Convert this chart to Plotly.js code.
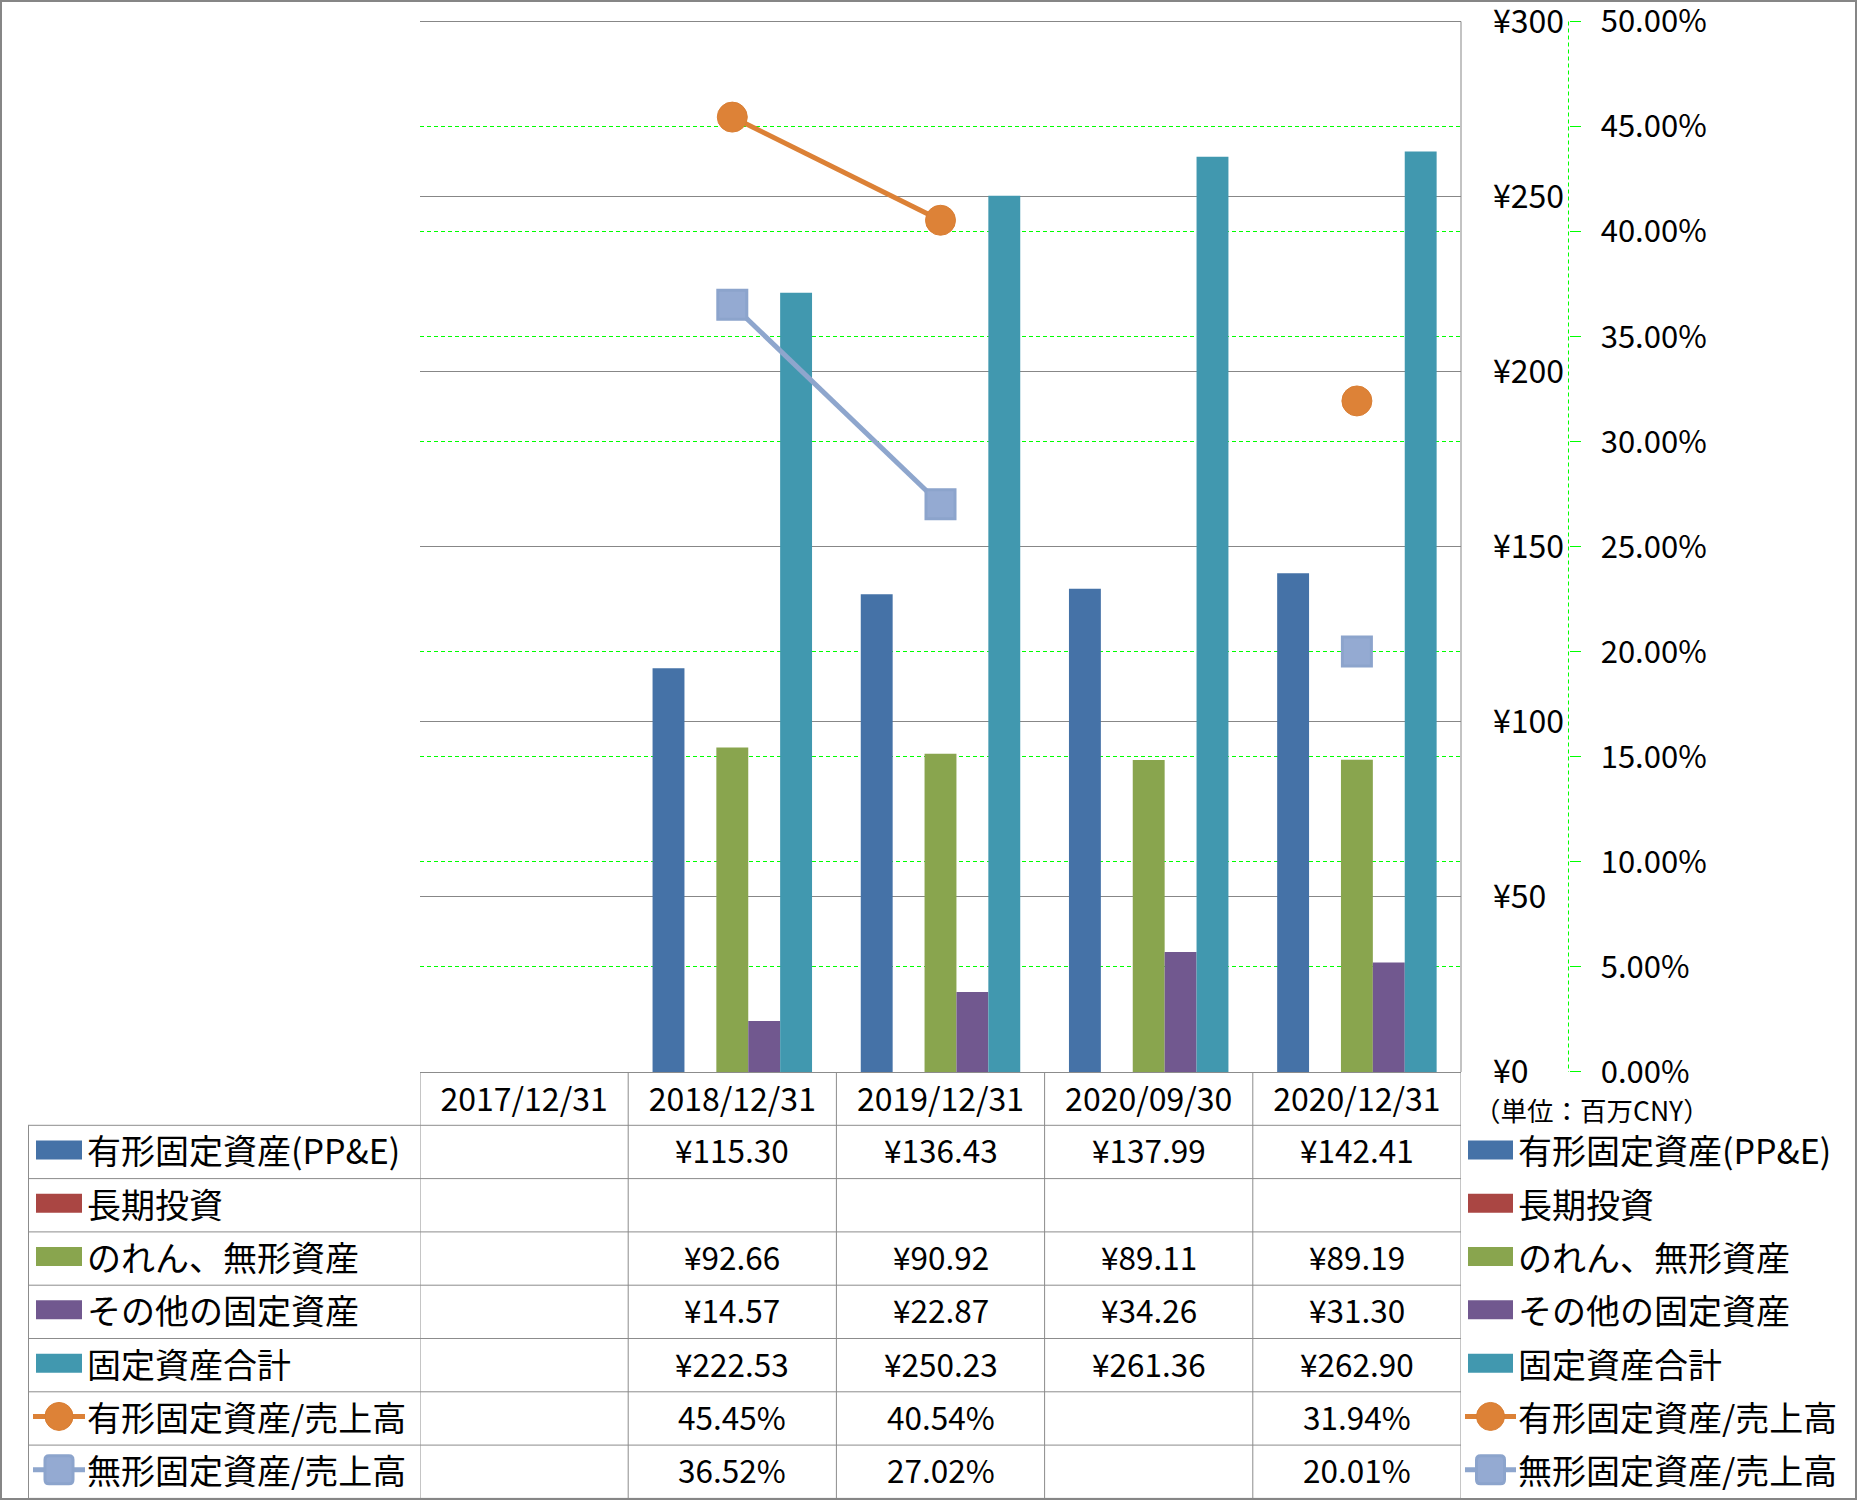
<!DOCTYPE html>
<html>
<head>
<meta charset="utf-8">
<script src="https://cdn.plot.ly/plotly-3.0.1.min.js"></script>
<style>
html,body{margin:0;padding:0;background:#fff;}
#chart{width:1857px;height:1500px;}
</style>
</head>
<body>
<div id="chart"></div>
<script>
// ---------- DATA ----------
const categories = ['2017/12/31', '2018/12/31', '2019/12/31', '2020/09/30', '2020/12/31'];
const ppe        = [null, 115.30, 136.43, 137.99, 142.41];
const ltInvest   = [null, null, null, null, null];
const goodwill   = [null, 92.66, 90.92, 89.11, 89.19];
const otherFixed = [null, 14.57, 22.87, 34.26, 31.30];
const totalFixed = [null, 222.53, 250.23, 261.36, 262.90];
const ppeRatio   = [null, 45.45, 40.54, null, 31.94];
const intRatio   = [null, 36.52, 27.02, null, 20.01];
const seriesNames = ['有形固定資産(PP&E)', '長期投資', 'のれん、無形資産', 'その他の固定資産', '固定資産合計', '有形固定資産/売上高', '無形固定資産/売上高'];
const unitText = '（単位：百万CNY）';

// ---------- STYLE ----------
const W = 1857, H = 1500;
const FONT = '"Noto Sans CJK JP", "Noto Sans", sans-serif';
const colors = ['#4572A7', '#AA4643', '#89A54E', '#71588F', '#4198AF', '#DC8136', '#8EA6CD'];
const gridGray = '#878787';
const tableGray = '#8C8C8C';
const green = '#00FF00';
const plotL = 420, plotR = 1461, plotT = 21.5, plotB = 1072;
const axis2X = 1568.5;
const rowTop0 = 1125.3, rowH = 53.3;
const X = px => px / W;
const Y = py => 1 - py / H;
// small headroom above the last tick so that its grid line and label are kept
const yMax = 301, y2Max = 50 * yMax / 300;
const plotTop = plotB - (plotB - plotT) * yMax / 300;

const barSeries = [ppe, ltInvest, goodwill, otherFixed, totalFixed];
const lineSeries = [ppeRatio, intRatio];

const traces = [];
barSeries.forEach((vals, i) => {
  traces.push({
    type: 'bar', name: seriesNames[i], x: categories, y: vals,
    marker: {color: colors[i]}, xaxis: 'x', yaxis: 'y', showlegend: false, hoverinfo: 'skip'
  });
});
traces.push({
  type: 'scatter', mode: 'lines+markers', name: seriesNames[5], x: categories, y: ppeRatio,
  xaxis: 'x', yaxis: 'y2', connectgaps: false, cliponaxis: false,
  line: {color: colors[5], width: 5},
  marker: {symbol: 'circle', size: 30, color: '#DD8237', line: {color: '#D97E33', width: 1}},
  showlegend: false, hoverinfo: 'skip'
});
traces.push({
  type: 'scatter', mode: 'lines+markers', name: seriesNames[6], x: categories, y: intRatio,
  xaxis: 'x', yaxis: 'y2', connectgaps: false, cliponaxis: false,
  line: {color: colors[6], width: 5},
  marker: {symbol: 'square', size: 29, color: '#94AAD2', line: {color: '#8CA4CC', width: 3}},
  showlegend: false, hoverinfo: 'skip'
});
// empty trace so the gray value grid can be redrawn above the green percentage grid
traces.push({type: 'scatter', mode: 'markers', x: [], y: [], xaxis: 'x', yaxis: 'y3', showlegend: false, hoverinfo: 'skip'});

// ---------- TABLE / LEGEND DECORATION ----------
const shapes = [];
const annotations = [];
const nRows = seriesNames.length;
const lineStyle = {color: tableGray, width: 1};

for (let r = 0; r <= nRows; r++) {
  const yy = rowTop0 + r * rowH;
  shapes.push({type: 'line', xref: 'paper', yref: 'paper', x0: X(28), x1: X(plotR), y0: Y(yy), y1: Y(yy), line: lineStyle, layer: 'above'});
}
for (let c = 0; c <= categories.length; c++) {
  shapes.push({type: 'line', xref: 'x', yref: 'paper', x0: c - 0.5, x1: c - 0.5, y0: Y(plotB), y1: Y(rowTop0 + nRows * rowH), line: lineStyle, layer: 'above'});
}
shapes.push({type: 'line', xref: 'paper', yref: 'paper', x0: X(28.5), x1: X(28.5), y0: Y(rowTop0), y1: Y(rowTop0 + nRows * rowH), line: lineStyle, layer: 'above'});

function fmtRow(i, v) {
  if (v === null || v === undefined) return '';
  return i < 5 ? '¥' + v.toFixed(2) : v.toFixed(2) + '%';
}
const allSeries = barSeries.concat(lineSeries);
allSeries.forEach((vals, r) => {
  const yc = rowTop0 + r * rowH + rowH / 2;
  vals.forEach((v, c) => {
    const t = fmtRow(r, v);
    if (!t) return;
    annotations.push({xref: 'x', yref: 'paper', x: categories[c], y: Y(yc - 2.5), text: t, showarrow: false,
      xanchor: 'center', yanchor: 'middle', font: {family: FONT, size: 31.5, color: '#000'}});
  });
});

function addKey(r, xStart, xEnd, textX) {
  const yc = rowTop0 + r * rowH + rowH / 2 - 2;
  if (r < 5) {
    shapes.push({type: 'rect', xref: 'paper', yref: 'paper', x0: X(xStart + 3), x1: X(xEnd - 3), y0: Y(yc - 9.5), y1: Y(yc + 9.5),
      fillcolor: colors[r], line: {width: 0}, layer: 'above'});
  } else {
    const col = colors[r];
    shapes.push({type: 'line', xref: 'paper', yref: 'paper', x0: X(xStart), x1: X(xEnd), y0: Y(yc), y1: Y(yc),
      line: {color: col, width: 5}, layer: 'above'});
    const cx = (xStart + xEnd) / 2, h = 14;
    if (r === 5) {
      shapes.push({type: 'circle', xref: 'paper', yref: 'paper', x0: X(cx - h), x1: X(cx + h), y0: Y(yc - h), y1: Y(yc + h),
        fillcolor: '#DD8237', line: {color: '#D97E33', width: 1}, layer: 'above'});
    } else {
      const k = 4;
      const p = (a, b) => X(a) + ',' + Y(b);
      const path = 'M' + p(cx - h + k, yc - h) + ' L' + p(cx + h - k, yc - h) + ' Q' + p(cx + h, yc - h) + ' ' + p(cx + h, yc - h + k) +
        ' L' + p(cx + h, yc + h - k) + ' Q' + p(cx + h, yc + h) + ' ' + p(cx + h - k, yc + h) +
        ' L' + p(cx - h + k, yc + h) + ' Q' + p(cx - h, yc + h) + ' ' + p(cx - h, yc + h - k) +
        ' L' + p(cx - h, yc - h + k) + ' Q' + p(cx - h, yc - h) + ' ' + p(cx - h + k, yc - h) + ' Z';
      shapes.push({type: 'path', xref: 'paper', yref: 'paper', path: path,
        fillcolor: '#94AAD2', line: {color: '#8CA4CC', width: 3}, layer: 'above'});
    }
  }
  annotations.push({xref: 'paper', yref: 'paper', x: X(textX), y: Y(yc), text: seriesNames[r], showarrow: false,
    xanchor: 'left', yanchor: 'middle', font: {family: FONT, size: 34, color: '#000'}});
}
for (let r = 0; r < nRows; r++) {
  addKey(r, 33, 85, 85);
  addKey(r, 1465, 1516, 1516);
}

annotations.push({xref: 'paper', yref: 'paper', x: X(1472), y: Y(1109), text: unitText, showarrow: false,
  xanchor: 'left', yanchor: 'middle', font: {family: FONT, size: 26.5, color: '#000'}});

shapes.push({type: 'line', xref: 'paper', yref: 'paper', x0: X(axis2X), x1: X(axis2X), y0: Y(plotT), y1: Y(plotB),
  line: {color: green, width: 1, dash: '4px,3px'}, layer: 'above'});

shapes.push({type: 'rect', xref: 'paper', yref: 'paper', x0: 0, x1: 1, y0: 0, y1: 1,
  line: {color: '#868686', width: 4}, fillcolor: 'rgba(0,0,0,0)', layer: 'above'});

const layout = {
  width: W, height: H,
  margin: {l: 0, r: 0, t: 0, b: 0, pad: 0},
  paper_bgcolor: '#fff', plot_bgcolor: '#fff',
  font: {family: FONT, color: '#000'},
  showlegend: false,
  barmode: 'group', bargap: 0.234, bargroupgap: 0,
  xaxis: {
    domain: [X(plotL), X(plotR)], type: 'category', categoryorder: 'array', categoryarray: categories,
    range: [-0.5, categories.length - 0.5], showgrid: false, zeroline: false,
    showline: true, linecolor: tableGray, linewidth: 1, ticks: '', ticklen: 0,
    tickfont: {family: FONT, size: 32, color: '#000'}, ticklabelstandoff: 0, fixedrange: true, anchor: 'y'
  },
  yaxis: {
    domain: [Y(plotB), Y(plotTop)], range: [0, yMax], dtick: 50, tick0: 0, side: 'right',
    showline: false, showgrid: true, gridcolor: gridGray, gridwidth: 1,
    zeroline: false, ticks: '', ticklen: 0, tickprefix: '¥', tickformat: 'd', ticklabeloverflow: 'allow',
    tickfont: {family: FONT, size: 32, color: '#000'}, ticklabelstandoff: 31, fixedrange: true
  },
  yaxis2: {
    overlaying: 'y', side: 'right', anchor: 'free', position: X(axis2X),
    range: [0, y2Max], dtick: 5, tick0: 0, tickformat: '.2f', ticksuffix: '%', ticklabeloverflow: 'allow',
    showgrid: true, gridcolor: green, gridwidth: 1, griddash: '4px,3px',
    zeroline: false, showline: false, ticks: 'outside', ticklen: 11, tickcolor: green, tickwidth: 1,
    tickfont: {family: FONT, size: 31, color: '#000'}, ticklabelstandoff: 14, fixedrange: true
  },
  yaxis3: {
    overlaying: 'y', side: 'right', range: [0, yMax], dtick: 50, tick0: 0,
    showgrid: true, gridcolor: gridGray, gridwidth: 1, showticklabels: false, ticks: '',
    zeroline: false, showline: false, fixedrange: true
  },
  shapes: shapes.concat([
    // right border of the plot area, from the top grid line down to the axis
    {type: 'line', xref: 'paper', yref: 'paper', x0: X(plotR), x1: X(plotR), y0: Y(plotT), y1: Y(plotB), line: {color: gridGray, width: 1}, layer: 'above'}
  ]),
  annotations: annotations
};

Plotly.newPlot('chart', traces, layout, {displayModeBar: false, staticPlot: true});
</script>
</body>
</html>
